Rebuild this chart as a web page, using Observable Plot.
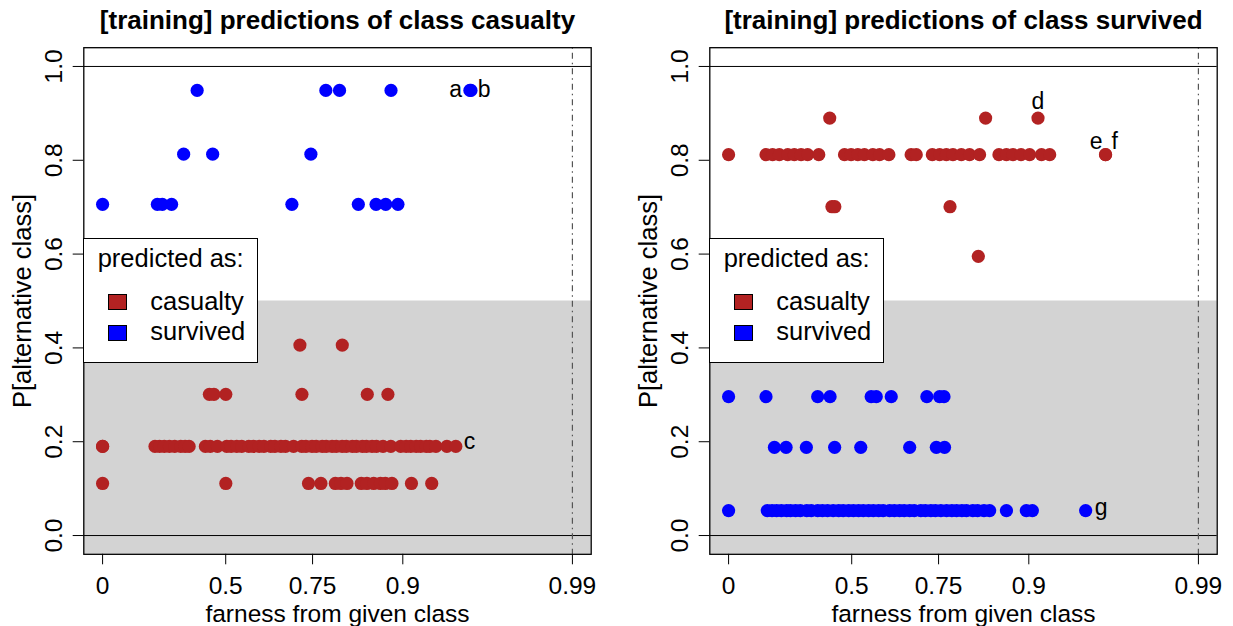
<!DOCTYPE html>
<html><head><meta charset="utf-8">
<script src="https://cdn.jsdelivr.net/npm/d3@7"></script>
<script src="https://cdn.jsdelivr.net/npm/@observablehq/plot@0.6"></script>
<style>
body{margin:0;background:#fff;font-family:"Liberation Sans",Arial,sans-serif;}
#wrap{position:relative;width:1233px;height:626px;overflow:hidden;background:#fff;}
.panel{position:absolute;top:0;width:607px;height:626px;}
.legend{position:absolute;left:83.3px;top:238.3px;width:175px;height:124.4px;box-sizing:border-box;border:1.3px solid #000;background:#fff;font-size:25.5px;line-height:25.5px;color:#000;}
.legend span{position:absolute;white-space:nowrap;}
.legend .sw{position:absolute;left:23.7px;width:19px;height:16px;box-sizing:border-box;border:1px solid #000;}
</style></head>
<body><div id="wrap"></div>
<script>
// ---- axis definitions ----
const tickProbs = [0, 0.5, 0.75, 0.9, 0.99];
const tickLabels = ["0", "0.5", "0.75", "0.9", "0.99"];
const yTicks = [0, 0.2, 0.4, 0.6, 0.8, 1.0];
const classes = ["casualty", "survived"];
const classColors = ["#B22222", "#0000FF"];
const titles = ["[training] predictions of class casualty", "[training] predictions of class survived"];
const xLabel = "farness from given class";
const yLabel = "P[alternative class]";

// ---- left panel (given class: casualty); x = farness on probit scale ----
const L_surv_y = [0.949, 0.813, 0.706];
const L_surv_x949 = [0.518, 1.223, 1.298, 1.580, 2.012, 2.018];
const L_surv_x813 = [0.444, 0.603, 1.141];
const L_surv_x706 = [0, 0.300, 0.327, 0.378, 1.037, 1.401, 1.498, 1.551, 1.618];
const L_cas_y = [0.406, 0.301, 0.190, 0.111];
const L_cas_x406 = [1.081, 1.313];
const L_cas_x301 = [0.585, 0.610, 0.675, 1.092, 1.450, 1.563];
const L_cas_x190 = [0, 0, 0.287, 0.312, 0.338, 0.366, 0.395, 0.428, 0.452, 0.474, 0.563, 0.590, 0.629, 0.680, 0.704,
  0.735, 0.762, 0.801, 0.826, 0.858, 0.884, 0.921, 0.944, 0.977, 1.002, 1.046, 1.091, 1.114, 1.147, 1.170, 1.203,
  1.225, 1.257, 1.280, 1.312, 1.335, 1.368, 1.390, 1.423, 1.445, 1.476, 1.500, 1.536, 1.579, 1.633, 1.663, 1.688,
  1.718, 1.742, 1.773, 1.793, 1.826, 1.886, 1.935];
const L_cas_x111 = [0, 0.675, 1.128, 1.196, 1.275, 1.306, 1.339, 1.417, 1.448, 1.485, 1.522, 1.549, 1.585, 1.692, 1.803];
const L_labels = ["a", "b", "c"];
const L_labelX = [2.015, 2.015, 1.935];
const L_labelY = [0.949, 0.949, 0.190];
const L_labelPos = ["left", "right", "rightLow"];

// ---- right panel (given class: survived) ----
const R_cas_y = [0.890, 0.812, 0.701, 0.595];
const R_cas_x890 = [0.554, 1.408, 1.695];
const R_cas_x812 = [0, 0.205, 0.241, 0.278, 0.324, 0.360, 0.397, 0.433, 0.494, 0.635, 0.671, 0.708, 0.744, 0.790,
  0.827, 0.878, 1.000, 1.028, 1.116, 1.156, 1.193, 1.229, 1.275, 1.320, 1.375, 1.481, 1.522, 1.558, 1.602, 1.649,
  1.714, 1.759, 2.065, 2.065];
const R_cas_x701 = [0.566, 0.582, 1.213];
const R_cas_x595 = [1.368];
const R_surv_y = [0.296, 0.188, 0.053];
const R_surv_x296 = [0, 0.205, 0.488, 0.556, 0.781, 0.809, 0.891, 1.086, 1.156, 1.180];
const R_surv_x188 = [0.251, 0.315, 0.426, 0.581, 0.724, 0.992, 1.138, 1.183];
const R_surv_x053 = [0, 0.212, 0.238, 0.263, 0.289, 0.318, 0.339, 0.367, 0.393, 0.428, 0.453, 0.488, 0.514, 0.542,
  0.573, 0.603, 0.628, 0.658, 0.684, 0.712, 0.738, 0.767, 0.793, 0.822, 0.847, 0.882, 0.908, 0.937, 0.962, 0.992,
  1.017, 1.053, 1.078, 1.108, 1.133, 1.163, 1.194, 1.223, 1.249, 1.278, 1.303, 1.338, 1.364, 1.399, 1.430, 1.522,
  1.631, 1.664, 1.956];
const R_labels = ["d", "e", "f", "g"];
const R_labelX = [1.695, 2.065, 2.065, 1.956];
const R_labelY = [0.890, 0.812, 0.812, 0.053];
const R_labelPos = ["above", "upLeft", "upRight", "rightG"];

// ---- probit transform used by the farness axis ----
function qnorm(p) {
  const a=[-3.969683028665376e+01,2.209460984245205e+02,-2.759285104469687e+02,1.383577518672690e+02,-3.066479806614716e+01,2.506628277459239e+00];
  const b=[-5.447609879822406e+01,1.615858368580409e+02,-1.556989798598866e+02,6.680131188771972e+01,-1.328068155288572e+01];
  const c=[-7.784894002430293e-03,-3.223964580411365e-01,-2.400758277161838e+00,-2.549732539343734e+00,4.374664141464968e+00,2.938163982698783e+00];
  const d=[7.784695709041462e-03,3.224671290700398e-01,2.445134137142996e+00,3.754408661907416e+00];
  const pl = 0.02425, ph = 1 - pl;
  let q, r;
  if (p < pl) { q = Math.sqrt(-2*Math.log(p)); return (((((c[0]*q+c[1])*q+c[2])*q+c[3])*q+c[4])*q+c[5])/((((d[0]*q+d[1])*q+d[2])*q+d[3])*q+1); }
  if (p <= ph) { q = p - 0.5; r = q*q; return (((((a[0]*r+a[1])*r+a[2])*r+a[3])*r+a[4])*r+a[5])*q/(((((b[0]*r+b[1])*r+b[2])*r+b[3])*r+b[4])*r+1); }
  q = Math.sqrt(-2*Math.log(1-p)); return -(((((c[0]*q+c[1])*q+c[2])*q+c[3])*q+c[4])*q+c[5])/((((d[0]*q+d[1])*q+d[2])*q+d[3])*q+1);
}
const qfunc = p => qnorm(p * (0.9999683 - 0.5) + 0.5);
const xTickVals = tickProbs.map(qfunc);
const tickMap = new Map(xTickVals.map((v, i) => [v, tickLabels[i]]));
const xMax = xTickVals[xTickVals.length - 1];
const xDom = [-0.04 * xMax, 1.04 * xMax];
const yDom = [-0.04, 1.04];

const posStyle = {
  left:     {textAnchor: "end",    dx: -8.5, dy: 7},
  right:    {textAnchor: "start",  dx: 7.3,  dy: 7},
  rightLow: {textAnchor: "start",  dx: 8,    dy: 2.5},
  above:    {textAnchor: "middle", dx: 0,    dy: -9.5},
  upLeft:   {textAnchor: "end",    dx: -3,   dy: -6},
  upRight:  {textAnchor: "start",  dx: 6,    dy: -6},
  rightG:   {textAnchor: "start",  dx: 9,    dy: 4.7}
};

function rowsToPoints(ys, xs, cls) {
  const out = [];
  ys.forEach((y, i) => xs[i].forEach(x => out.push({x, y, cls})));
  return out;
}

function makePanel(title, points, labels, labelX, labelY, labelPos) {
  const labelMarks = labels.map((t, i) => {
    const st = posStyle[labelPos[i]];
    return Plot.text([{x: labelX[i], y: labelY[i], t}], {x: "x", y: "y", text: "t", fontSize: 23,
      lineAnchor: "bottom", textAnchor: st.textAnchor, dx: st.dx, dy: st.dy, fill: "black"});
  });
  return Plot.plot({
    width: 607, height: 626,
    marginLeft: 83.3, marginRight: 16.3, marginTop: 47.2, marginBottom: 72.2,
    style: {fontFamily: "'Liberation Sans', Arial, sans-serif", fontSize: "25px", background: "transparent", color: "black", overflow: "visible"},
    x: {domain: xDom},
    y: {domain: yDom},
    color: {domain: classes, range: classColors},
    marks: [
      Plot.rect([0], {x1: xDom[0], x2: xDom[1], y1: yDom[0], y2: 0.5, fill: "#d3d3d3"}),
      Plot.ruleY([0, 1], {stroke: "black", strokeWidth: 1}),
      Plot.ruleX([xMax], {stroke: "#555", strokeWidth: 1.2, strokeDasharray: "1.5,4,6,4"}),
      Plot.dot(points, {x: "x", y: "y", fill: "cls", r: 6.6, stroke: null}),
      ...labelMarks,
      Plot.axisX({ticks: xTickVals, tickFormat: d => tickMap.get(d), tickSize: 10.5, tickPadding: 11.9, fontSize: 24.5, label: null}),
      Plot.axisY({ticks: yTicks, tickFormat: d3.format(".1f"), tickRotate: -90, tickSize: 10.6, tickPadding: 11, fontSize: 24.5, label: null}),
      Plot.frame({stroke: "black", strokeWidth: 1.3}),
      Plot.text([title], {text: d => d, frameAnchor: "top", lineAnchor: "bottom", textAnchor: "middle", dy: -18.9, fontWeight: "bold", fontSize: 26}),
      Plot.text([xLabel], {text: d => d, frameAnchor: "bottom", lineAnchor: "bottom", textAnchor: "middle", dy: 67.7, fontSize: 24.5}),
      Plot.text([yLabel], {text: d => d, frameAnchor: "left", lineAnchor: "bottom", textAnchor: "middle", rotate: -90, dx: -52.7, fontSize: 25.5})
    ]
  });
}

function makeLegend() {
  const lg = document.createElement("div");
  lg.className = "legend";
  const head = document.createElement("span");
  head.textContent = "predicted as:"; head.style.left = "13.4px"; head.style.top = "7.1px";
  lg.appendChild(head);
  classes.forEach((c, i) => {
    const sw = document.createElement("div");
    sw.className = "sw"; sw.style.top = (54.7 + 31 * i) + "px"; sw.style.background = classColors[i];
    lg.appendChild(sw);
    const t = document.createElement("span");
    t.textContent = c; t.style.left = "66px"; t.style.top = (50.1 + 30 * i) + "px";
    lg.appendChild(t);
  });
  return lg;
}

const wrap = document.getElementById("wrap");
const leftPts = [
  ...rowsToPoints(L_surv_y, [L_surv_x949, L_surv_x813, L_surv_x706], "survived"),
  ...rowsToPoints(L_cas_y, [L_cas_x406, L_cas_x301, L_cas_x190, L_cas_x111], "casualty")
];
const rightPts = [
  ...rowsToPoints(R_cas_y, [R_cas_x890, R_cas_x812, R_cas_x701, R_cas_x595], "casualty"),
  ...rowsToPoints(R_surv_y, [R_surv_x296, R_surv_x188, R_surv_x053], "survived")
];
[[0, leftPts, L_labels, L_labelX, L_labelY, L_labelPos],
 [626, rightPts, R_labels, R_labelX, R_labelY, R_labelPos]].forEach(([left, pts, lab, lx, ly, lp], k) => {
  const p = document.createElement("div");
  p.className = "panel"; p.style.left = left + "px";
  p.appendChild(makePanel(titles[k], pts, lab, lx, ly, lp));
  p.appendChild(makeLegend());
  wrap.appendChild(p);
});
</script></body></html>
